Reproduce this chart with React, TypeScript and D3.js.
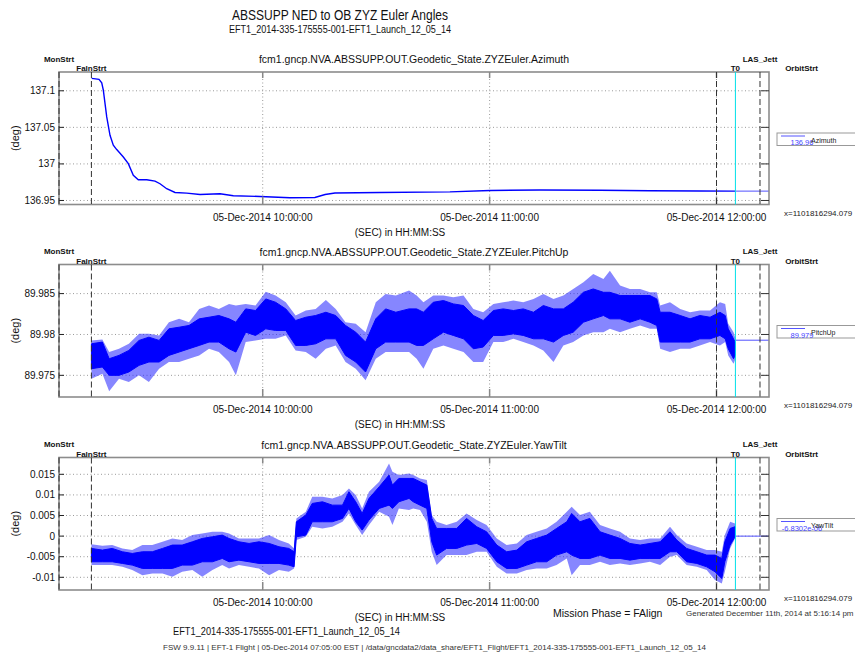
import React from 'react';
import * as d3 from 'd3';

// ---------- DATA ----------
// time in minutes after 05-Dec-2014 09:00:00
const timeDomain = [6.13, 193.88];
const xTicks = [60, 120, 180];
const xTickLabels = ['05-Dec-2014 10:00:00', '05-Dec-2014 11:00:00', '05-Dec-2014 12:00:00'];

const eventNames = ['MonStrt', 'FalnStrt', '', 'T0', 'LAS_Jett', 'OrbitStrt'];
const eventTimes = [6.13, 14.7, 180.0, 185.0, 191.5, 202.5];

// Azimuth (deg)
const azTime = [14.78, 16.71, 17.43, 17.85, 18.75, 19.62, 20.49, 21.39, 22.27, 23.14, 24.46, 25.78, 27.1, 29.33, 31.52, 32.84, 34.61, 36.81, 39.9, 43.42, 48.71, 52.23, 59.29, 67.2, 73.8, 76.5, 79.1, 91.0, 109.5, 120.1, 133.3, 149.2, 162.4, 175.6, 184.9];
const azValue = [137.117, 137.1156, 137.111, 137.101, 137.0643, 137.0392, 137.0255, 137.0196, 137.0145, 137.0094, 137.0004, 136.9843, 136.9784, 136.9784, 136.9765, 136.9729, 136.9661, 136.961, 136.96, 136.9582, 136.9592, 136.9565, 136.9555, 136.9537, 136.9541, 136.9582, 136.9603, 136.961, 136.9617, 136.9637, 136.9644, 136.964, 136.9633, 136.963, 136.9628];
const azLast = 136.9628;

// PitchUp rows: [time, spikeLow, coreLow, coreHigh, spikeHigh]
const pitchRows = [
  [14.7, 89.97459, 89.97581, 89.97886, 89.97927],
  [17.6, 89.9752, 89.97602, 89.97907, 89.97939],
  [19.4, 89.97305, 89.975, 89.97703, 89.97785],
  [22.0, 89.97459, 89.975, 89.97744, 89.97825],
  [24.6, 89.97419, 89.97541, 89.97805, 89.97886],
  [27.3, 89.975, 89.97622, 89.97927, 89.98008],
  [29.9, 89.97419, 89.97663, 89.97967, 89.98008],
  [32.6, 89.97581, 89.97663, 89.97927, 89.97988],
  [35.2, 89.97663, 89.97744, 89.98069, 89.9815],
  [37.9, 89.97663, 89.97785, 89.98089, 89.98191],
  [40.5, 89.97703, 89.97825, 89.9811, 89.9815],
  [43.2, 89.97744, 89.97866, 89.98191, 89.98313],
  [45.8, 89.97825, 89.97907, 89.98211, 89.98354],
  [48.4, 89.97785, 89.97907, 89.98232, 89.98313],
  [51.1, 89.97663, 89.97825, 89.98191, 89.98374],
  [52.9, 89.975, 89.97785, 89.9815, 89.98354],
  [55.5, 89.97907, 89.98028, 89.98313, 89.98374],
  [58.1, 89.97927, 89.97988, 89.98293, 89.98354],
  [60.8, 89.97947, 89.98069, 89.98435, 89.98524],
  [63.4, 89.97947, 89.98049, 89.98394, 89.98476],
  [66.1, 89.97988, 89.98049, 89.98313, 89.98394],
  [68.7, 89.97805, 89.97866, 89.98171, 89.98232],
  [71.4, 89.97785, 89.97866, 89.98211, 89.98293],
  [74.0, 89.97703, 89.97886, 89.98232, 89.98313],
  [76.7, 89.97825, 89.97947, 89.98272, 89.98423],
  [79.3, 89.97866, 89.97947, 89.98232, 89.98313],
  [81.9, 89.97663, 89.97744, 89.9811, 89.9815],
  [84.6, 89.97581, 89.97663, 89.98028, 89.9813],
  [87.2, 89.97439, 89.97541, 89.97907, 89.98028],
  [89.9, 89.97703, 89.97825, 89.98191, 89.98394],
  [92.5, 89.97785, 89.97907, 89.98313, 89.98496],
  [95.2, 89.97785, 89.97907, 89.98272, 89.98476],
  [98.7, 89.97785, 89.97907, 89.98313, 89.98537],
  [100.7, 89.97703, 89.97866, 89.98313, 89.98476],
  [102.5, 89.97581, 89.97866, 89.98272, 89.98394],
  [105.1, 89.97825, 89.97947, 89.98394, 89.98476],
  [107.8, 89.97866, 89.98028, 89.98415, 89.98476],
  [110.4, 89.97825, 89.97988, 89.98374, 89.98455],
  [113.1, 89.97785, 89.97947, 89.98354, 89.98476],
  [115.7, 89.97663, 89.97825, 89.98232, 89.98313],
  [118.3, 89.97663, 89.97846, 89.98171, 89.98272],
  [121.0, 89.97907, 89.97988, 89.98293, 89.98374],
  [123.6, 89.97907, 89.97988, 89.98313, 89.98394],
  [126.3, 89.97947, 89.98008, 89.98293, 89.98415],
  [128.9, 89.97907, 89.97988, 89.98313, 89.98394],
  [131.6, 89.97866, 89.97947, 89.98272, 89.98435],
  [134.2, 89.97805, 89.97947, 89.98354, 89.98496],
  [136.9, 89.97663, 89.97907, 89.98313, 89.98435],
  [139.5, 89.97866, 89.97988, 89.98313, 89.98476],
  [142.1, 89.97907, 89.98028, 89.98394, 89.98557],
  [144.8, 89.97988, 89.9815, 89.98516, 89.98638],
  [147.4, 89.98028, 89.98191, 89.98557, 89.9874],
  [150.1, 89.98028, 89.98232, 89.98516, 89.98679],
  [151.8, 89.98069, 89.98191, 89.98516, 89.9878],
  [154.5, 89.98028, 89.98191, 89.98476, 89.98598],
  [157.1, 89.98069, 89.9815, 89.98476, 89.98557],
  [159.8, 89.9811, 89.98191, 89.98476, 89.98557],
  [162.4, 89.98069, 89.9815, 89.98476, 89.98516],
  [164.2, 89.98069, 89.9811, 89.98435, 89.98516],
  [165.1, 89.97825, 89.97907, 89.98272, 89.98354],
  [167.7, 89.97785, 89.97907, 89.98272, 89.98394],
  [170.4, 89.97825, 89.97907, 89.98232, 89.98313],
  [173.0, 89.97825, 89.97907, 89.98191, 89.98272],
  [175.6, 89.97866, 89.97947, 89.98232, 89.98293],
  [178.3, 89.97907, 89.97947, 89.98211, 89.98293],
  [180.9, 89.97866, 89.97988, 89.98272, 89.98394],
  [182.3, 89.97907, 89.97947, 89.98232, 89.98374],
  [183.1, 89.97744, 89.97825, 89.98069, 89.9813],
  [184.5, 89.97642, 89.97703, 89.97947, 89.98028],
  [185.0, 89.977, 89.9775, 89.979, 89.9795],
];
const pitchLast = 89.9793;

// YawTilt rows: [time, spikeLow, coreLow, coreHigh, spikeHigh]
const yawRows = [
  [14.7, -0.00704, -0.00623, -0.00299, -0.002],
  [17.6, -0.00704, -0.00623, -0.0034, -0.00235],
  [20.2, -0.00704, -0.00623, -0.00299, -0.00218],
  [22.9, -0.00745, -0.00663, -0.0038, -0.00299],
  [25.5, -0.00825, -0.00704, -0.00421, -0.0034],
  [28.2, -0.00947, -0.00785, -0.0038, -0.00218],
  [30.8, -0.00906, -0.00785, -0.0038, -0.00218],
  [33.5, -0.00906, -0.00785, -0.00299, -0.00138],
  [36.1, -0.00987, -0.00785, -0.00218, -0.00057],
  [38.7, -0.00866, -0.00704, -0.00218, -0.00097],
  [41.4, -0.00825, -0.00704, -0.00138, 0.00024],
  [44.0, -0.00987, -0.00623, -0.00057, 0.00065],
  [46.7, -0.00825, -0.00623, -0.00016, 0.00105],
  [49.3, -0.00704, -0.00542, 0.00024, 0.00105],
  [51.1, -0.00785, -0.00623, -0.00057, 0.00065],
  [53.7, -0.00704, -0.00583, -0.00138, -0.00057],
  [56.4, -0.00745, -0.00623, -0.00178, -0.00057],
  [59.0, -0.00785, -0.00663, -0.00138, -0.00057],
  [61.7, -0.00947, -0.00663, -0.00178, 0.00024],
  [64.3, -0.00825, -0.00663, -0.00259, -0.00097],
  [66.9, -0.00866, -0.00704, -0.00299, -0.00178],
  [68.3, -0.00785, -0.00745, -0.0038, -0.00299],
  [68.9, -0.00097, -0.00016, 0.00348, 0.00429],
  [71.4, -0.00016, 0.00024, 0.0051, 0.00591],
  [73.1, 0.00227, 0.00348, 0.00793, 0.00955],
  [75.8, 0.00186, 0.00348, 0.00833, 0.00955],
  [78.4, 0.00227, 0.00348, 0.00752, 0.00914],
  [81.1, 0.00348, 0.00429, 0.00752, 0.00995],
  [82.8, 0.0055, 0.00672, 0.01076, 0.01157],
  [84.6, 0.00267, 0.00348, 0.00833, 0.00995],
  [86.3, 0.00024, 0.00146, 0.0055, 0.00672],
  [88.1, 0.00267, 0.00389, 0.00914, 0.01076],
  [90.8, 0.00591, 0.00672, 0.01197, 0.01319],
  [93.4, 0.00469, 0.00752, 0.01481, 0.01764],
  [94.3, 0.00267, 0.00672, 0.01238, 0.01561],
  [96.0, 0.00672, 0.00833, 0.014, 0.01481],
  [98.7, 0.00631, 0.00914, 0.014, 0.01521],
  [99.8, 0.00672, 0.00833, 0.014, 0.01481],
  [101.6, 0.00631, 0.00752, 0.01319, 0.014],
  [103.4, 0.00348, 0.00672, 0.01238, 0.01359],
  [104.7, -0.0038, -0.00138, 0.00429, 0.0051],
  [106.0, -0.00704, -0.00461, 0.00186, 0.00348],
  [108.6, -0.00461, -0.00299, 0.00186, 0.00267],
  [111.3, -0.00461, -0.00299, 0.00186, 0.00348],
  [113.9, -0.00461, -0.00218, 0.00429, 0.0055],
  [116.6, -0.0038, -0.00178, 0.00227, 0.00389],
  [119.2, -0.0038, -0.00299, 0.00105, 0.00267],
  [121.9, -0.00745, -0.00623, -0.00218, -0.00057],
  [124.5, -0.00906, -0.00785, -0.0038, -0.00218],
  [127.2, -0.00906, -0.00785, -0.0034, -0.00178],
  [129.8, -0.00825, -0.00704, -0.00138, 0.00024],
  [132.4, -0.00785, -0.00623, -0.00057, 0.00105],
  [135.1, -0.00785, -0.00623, 0.00024, 0.00186],
  [137.7, -0.00704, -0.00461, 0.00186, 0.00348],
  [140.4, -0.00542, -0.0038, 0.00348, 0.00591],
  [141.7, -0.00947, -0.00461, 0.0055, 0.00712],
  [143.9, -0.00704, -0.00542, 0.00348, 0.0051],
  [146.5, -0.00704, -0.00542, 0.00429, 0.00591],
  [149.2, -0.00623, -0.00461, 0.00105, 0.00267],
  [151.8, -0.00704, -0.00542, 0.00024, 0.00186],
  [154.5, -0.00663, -0.00542, -0.00057, 0.00105],
  [157.1, -0.00704, -0.00583, -0.00178, -0.00057],
  [159.8, -0.00663, -0.00542, -0.00218, -0.00097],
  [162.4, -0.00623, -0.00542, -0.00178, -0.00057],
  [165.1, -0.00704, -0.00542, -0.00138, -0.00057],
  [167.7, -0.00502, -0.0038, 0.00105, 0.00227],
  [169.5, -0.00461, -0.0038, -0.00097, 0.00024],
  [172.1, -0.00704, -0.00623, -0.00299, -0.00178],
  [174.8, -0.00745, -0.00663, -0.0038, -0.00259],
  [177.4, -0.00825, -0.00745, -0.00461, -0.0034],
  [179.6, -0.01068, -0.00866, -0.00461, -0.0034],
  [181.4, -0.01149, -0.01028, -0.00542, -0.0038],
  [182.2, -0.00866, -0.00623, -0.00138, 0.00024],
  [183.6, -0.00299, -0.00218, 0.00186, 0.00348],
  [184.9, -0.00057, -0.00016, 0.00227, 0.00307],
];
const yawLast = -0.0000068302;

const panelTitles = [
  'fcm1.gncp.NVA.ABSSUPP.OUT.Geodetic_State.ZYZEuler.Azimuth',
  'fcm1.gncp.NVA.ABSSUPP.OUT.Geodetic_State.ZYZEuler.PitchUp',
  'fcm1.gncp.NVA.ABSSUPP.OUT.Geodetic_State.ZYZEuler.YawTilt',
];
const legendNames = ['Azimuth', 'PitchUp', 'YawTilt'];
const legendValues = ['136.96', '89.979', '-6.8302e-06'];
const yDomains = [[136.9445, 137.1257], [89.97235, 89.98856], [-0.01308, 0.01908]];
const yTickValues = [[136.95, 137, 137.05, 137.1], [89.975, 89.98, 89.985], [-0.01, -0.005, 0, 0.005, 0.01, 0.015]];
const yTickLabels = [['136.95', '137', '137.05', '137.1'], ['89.975', '89.98', '89.985'], ['-0.01', '-0.005', '0', '0.005', '0.01', '0.015']];
const cursorLabel = 'x=1101816294.079';

// ---------- LAYOUT ----------
const FONT = "'Liberation Sans', Arial, Helvetica, sans-serif";
const X0 = 59, X1 = 769, PH = 132.5;
const panelTops = [72, 264.5, 457.5];
const BLUE = '#0000ff';

const xScale = d3.scaleLinear().domain(timeDomain).range([X0, X1]);

function Panel({ idx }: { idx: number }) {
  const top = panelTops[idx];
  const bottom = top + PH;
  const y = d3.scaleLinear().domain(yDomains[idx]).range([bottom, top]);
  const clipId = `clip${idx}`;
  let dataEls: any = null;
  let last = 0;
  if (idx === 0) {
    const line = d3.line<number>().x((_, i) => xScale(azTime[i])).y((v) => y(v));
    dataEls = <path d={line(azValue) || ''} fill="none" stroke={BLUE} strokeWidth={1.4} />;
    last = azLast;
  } else {
    const rows = idx === 1 ? pitchRows : yawRows;
    last = idx === 1 ? pitchLast : yawLast;
    const outer = d3.area<number[]>().x((r) => xScale(r[0])).y0((r) => y(r[1])).y1((r) => y(r[4]));
    const inner = d3.area<number[]>().x((r) => xScale(r[0])).y0((r) => y(r[2])).y1((r) => y(r[3]));
    dataEls = (
      <g>
        <path d={outer(rows) || ''} fill="#2222ff" fillOpacity={0.55} />
        <path d={inner(rows) || ''} fill={BLUE} stroke={BLUE} strokeWidth={1} />
      </g>
    );
  }
  const t0 = eventTimes[3];
  return (
    <g>
      <defs>
        <clipPath id={clipId}>
          <rect x={X0} y={top} width={X1 - X0} height={PH} />
        </clipPath>
      </defs>
      {/* grid */}
      {yTickValues[idx].map((v, i) => (
        <line key={'gy' + i} x1={X0} x2={X1} y1={y(v)} y2={y(v)} stroke="#9a9a9a" strokeWidth={1} strokeDasharray="1,2.5" />
      ))}
      {xTicks.map((t, i) => (
        <line key={'gx' + i} x1={xScale(t)} x2={xScale(t)} y1={top} y2={bottom} stroke="#9a9a9a" strokeWidth={1} strokeDasharray="1,2.5" />
      ))}
      <g clipPath={`url(#${clipId})`}>
        {dataEls}
        <line x1={xScale(t0)} x2={X1} y1={y(last)} y2={y(last)} stroke="#5050ff" strokeWidth={1} />
      </g>
      {/* frame */}
      <rect x={X0} y={top} width={X1 - X0} height={PH} fill="none" stroke="#8c8c8c" strokeWidth={1.6} />
      {/* ticks */}
      {yTickValues[idx].map((v, i) => (
        <g key={'ty' + i}>
          <line x1={X0} x2={X0 + 5} y1={y(v)} y2={y(v)} stroke="#222" strokeWidth={1} />
          <line x1={X1 - 8} x2={X1} y1={y(v)} y2={y(v)} stroke="#333" strokeWidth={1} />
          <text x={55} y={y(v)} dy="0.35em" textAnchor="end" fontSize={10} fill="#111">{yTickLabels[idx][i]}</text>
        </g>
      ))}
      {xTicks.map((t, i) => (
        <g key={'tx' + i}>
          <line x1={xScale(t)} x2={xScale(t)} y1={bottom} y2={bottom - 8} stroke="#888" strokeWidth={1.5} />
          <line x1={xScale(t)} x2={xScale(t)} y1={top} y2={top + 6} stroke="#888" strokeWidth={1.5} />
          <text x={xScale(t)} y={bottom + 16} textAnchor="middle" fontSize={10} fill="#111">{xTickLabels[i]}</text>
        </g>
      ))}
      {/* event lines */}
      {eventTimes.map((t, i) => {
        if (t < timeDomain[0] || t > timeDomain[1]) return null;
        const isT0 = eventNames[i] === 'T0';
        return (
          <line key={'ev' + i} x1={xScale(t)} x2={xScale(t)} y1={top} y2={bottom}
            stroke={isT0 ? '#00e0e8' : '#333'} strokeWidth={1} strokeDasharray={isT0 ? undefined : '6,3'} />
        );
      })}
      {/* event labels */}
      {eventNames.map((n, i) => {
        if (!n) return null;
        const upper = n === 'MonStrt' || n === 'LAS_Jett';
        return (
          <text key={'el' + i} x={xScale(eventTimes[i])} y={upper ? top - 10.5 : top - 1} textAnchor="middle" fontSize={8} fontWeight="bold" fill="#111">{n}</text>
        );
      })}
      <text x={414} y={top - 9} textAnchor="middle" fontSize={10.5} fill="#111">{panelTitles[idx]}</text>
      <text transform={`translate(19,${top + PH / 2}) rotate(-90)`} textAnchor="middle" fontSize={11} fill="#111">(deg)</text>
      <text x={400} y={bottom + 31} textAnchor="middle" fontSize={10} fill="#111">(SEC) in HH:MM:SS</text>
      <text x={784} y={bottom + 11} fontSize={8} fill="#222">{cursorLabel}</text>
      {/* legend */}
      <rect x={777} y={top + 61} width={100} height={12.5} fill="#fff" stroke="#999" strokeWidth={1} />
      <line x1={781} x2={805} y1={top + 64} y2={top + 64} stroke="#5555ff" strokeWidth={1} />
      <text x={802} y={top + 73} textAnchor="middle" fontSize={7.5} fill="#4444ff">{legendValues[idx]}</text>
      <text x={811} y={top + 70.5} fontSize={7} fill="#222">{legendNames[idx]}</text>
    </g>
  );
}

export default function App() {
  return (
    <svg width={855} height={653} style={{ position: 'absolute', left: 0, top: 0, background: '#fff' }} fontFamily={FONT}>
      <rect x={0} y={0} width={855} height={653} fill="#fff" />
      <text x={340} y={19.5} textAnchor="middle" fontSize={15} fill="#111" textLength={216} lengthAdjust="spacingAndGlyphs">ABSSUPP NED to OB ZYZ Euler Angles</text>
      <text x={340} y={33} textAnchor="middle" fontSize={10} fill="#111" textLength={222} lengthAdjust="spacingAndGlyphs">EFT1_2014-335-175555-001-EFT1_Launch_12_05_14</text>
      {[0, 1, 2].map((i) => <Panel key={i} idx={i} />)}
      <text x={553} y={617} fontSize={10.5} fill="#111">Mission Phase = FAlign</text>
      <text x={686} y={616} fontSize={8} fill="#333">Generated December 11th, 2014 at 5:16:14 pm</text>
      <text x={173} y={635} fontSize={10.5} fill="#111" textLength={227} lengthAdjust="spacingAndGlyphs">EFT1_2014-335-175555-001-EFT1_Launch_12_05_14</text>
      <text x={163} y={650} fontSize={7.8} fill="#333" textLength={543} lengthAdjust="spacingAndGlyphs">FSW 9.9.11 | EFT-1 Flight | 05-Dec-2014 07:05:00 EST | /data/gncdata2/data_share/EFT1_Flight/EFT1_2014-335-175555-001-EFT1_Launch_12_05_14</text>
    </svg>
  );
}
